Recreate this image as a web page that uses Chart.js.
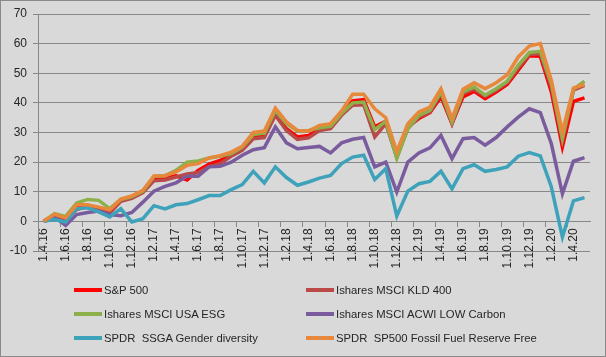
<!DOCTYPE html>
<html>
<head>
<meta charset="utf-8">
<script src="https://cdn.jsdelivr.net/npm/chart.js@4.4.0/dist/chart.umd.min.js"></script>
<style>
  html, body { margin: 0; padding: 0; background: #d9d9d9; }
  #frame { position: absolute; left: 0; top: 0; width: 606px; height: 357px; box-sizing: border-box; border: 1px solid #8a8a8a; background: #d9d9d9; }
  #wrap { position: absolute; left: 0; top: 0; width: 606px; height: 357px; }
  #legend { position: absolute; left: 0; top: 0; width: 606px; height: 357px; pointer-events: none; font-family: "Liberation Sans", Arial, sans-serif; font-size: 11.3px; color: #262626; }
  .item { position: absolute; height: 14px; line-height: 14px; white-space: pre; }
  .sw { position: absolute; top: 5px; left: 0; width: 28px; height: 4px; }
  .lbl { position: absolute; left: 30px; top: 0; }
</style>
</head>
<body>
<div id="frame"></div>
<div id="wrap"><canvas id="c"></canvas></div>
<div id="legend"></div>
<script>
const categories = [
  "1.4.16","1.5.16","1.6.16","1.7.16","1.8.16","1.9.16","1.10.16","1.11.16","1.12.16",
  "1.1.17","1.2.17","1.3.17","1.4.17","1.5.17","1.6.17","1.7.17","1.8.17","1.9.17","1.10.17","1.11.17","1.12.17",
  "1.1.18","1.2.18","1.3.18","1.4.18","1.5.18","1.6.18","1.7.18","1.8.18","1.9.18","1.10.18","1.11.18","1.12.18",
  "1.1.19","1.2.19","1.3.19","1.4.19","1.5.19","1.6.19","1.7.19","1.8.19","1.9.19","1.10.19","1.11.19","1.12.19",
  "1.1.20","1.2.20","1.3.20","1.4.20","1.5.20"
];

const seriesNames = [
  "S&P 500",
  "Ishares MSCI KLD 400",
  "Ishares MSCI USA ESG",
  "Ishares MSCI ACWI LOW Carbon",
  "SPDR  SSGA Gender diversity",
  "SPDR  SP500 Fossil Fuel Reserve Free"
];

const sp500 = [0, 2, 0.9, 5.2, 5.2, 4.6, 3.2, 7.1, 8, 9.9, 14.8, 14.8, 15.4, 14.0, 17.2, 19.3, 20.6,
  22.3, 24.5, 28.5, 29, 36.6, 31.3, 28.5, 29, 31, 31.6, 36.1, 40.7, 41.1, 31.9, 33.8, 21.7,
  31.9, 34.7, 36.7, 42, 33, 42, 43.9, 41.4, 43.7, 46.2, 51, 55.9, 55.7, 43.7, 25.1, 40.5, 41.7];

const kld400 = [0, 1.5, 0.3, 4, 5, 4.5, 2.8, 6.8, 7.8, 9.7, 13.7, 14, 15, 16, 16.5, 18.5, 19.5,
  22, 24, 27.9, 28.3, 35.8, 30.7, 27.7, 28.2, 30.7, 31.3, 35.8, 39.2, 39.4, 28.5, 33, 21.7,
  31.3, 35.2, 36.9, 43.1, 33, 43.1, 44.6, 42.2, 44.3, 46.8, 51.8, 56.3, 56.6, 45.4, 27.4, 44.3, 45.9];

const usaEsg = [0, 2.6, 1.7, 6.2, 7.4, 7.1, 4.3, 7.4, 8.4, 10.2, 15.2, 15.4, 17.2, 20, 20.4, 21.4, 22,
  22.9, 25.1, 29.3, 29.8, 37.5, 33, 30.5, 30.7, 31.6, 32.1, 36.4, 40, 40.3, 31, 33.8, 21.2,
  31.3, 35.8, 37.5, 43.7, 33.6, 43.7, 45.4, 42.6, 44.8, 47.3, 52.7, 57, 57.4, 46.5, 27.9, 44.6, 47.3];

const acwiLowCarbon = [0, 1.5, -1.4, 2.3, 3, 3.5, 2.3, 1.9, 3, 6.5, 10.2, 11.8, 13, 15.2, 15.2, 18.4, 18.6,
  20, 22.3, 24.2, 24.9, 31.9, 26.5, 24.5, 24.9, 25.3, 23.1, 26.5, 27.7, 28.3, 18.4, 20, 9.9,
  20, 23.1, 24.8, 29, 21.2, 27.9, 28.3, 25.7, 28.3, 31.9, 35.2, 38, 36.7, 26.2, 9.3, 20.3, 21.5];

const genderDiversity = [0, 0.6, -0.2, 4.3, 4.6, 3.2, 1.5, 4.3, -0.2, 0.9, 5.3, 4.2, 5.6, 6, 7.3, 8.7, 8.7,
  10.7, 12.4, 16.9, 13, 18.4, 14.8, 12.2, 13.3, 14.6, 15.5, 19.5, 21.7, 22.3, 14.1, 17.8, 1.8,
  10.2, 12.7, 13.5, 16.9, 11, 17.8, 19.1, 16.9, 17.5, 18.4, 22, 23.2, 22.1, 11.6, -5.3, 6.9, 8];

const fossilFree = [0, 2.4, 1.2, 5.6, 5.6, 4.8, 3.9, 7.5, 8.6, 10.5, 15.3, 15.4, 16.7, 18.9, 19.5, 21.4, 22.2,
  23.4, 25.3, 30, 30.5, 38.3, 33.6, 30.7, 30.5, 32.4, 33, 37.3, 42.9, 42.9, 38, 35, 23.5,
  33, 36.9, 38.6, 44.8, 34.7, 44.6, 46.8, 44.8, 46.8, 49.5, 55.5, 59.2, 60, 47.6, 30.2, 45, 46.2];

const yMin = -10, yMax = 70, yStep = 10;

const seriesValues = [sp500, kld400, usaEsg, acwiLowCarbon, genderDiversity, fossilFree];
const seriesColors = ["#ff0000", "#b94a47", "#8db04a", "#7a5c9e", "#3ea2bb", "#e8883b"];

const gridColor = "#878787";
const textColor = "#262626";
const fontFamily = "'Liberation Sans', Arial, sans-serif";

const datasets = seriesValues.map((vals, i) => ({
  label: seriesNames[i],
  data: vals,
  borderColor: seriesColors[i],
  backgroundColor: seriesColors[i],
  borderWidth: 3.5,
  pointRadius: 0,
  pointHoverRadius: 0,
  tension: 0,
  fill: false,
  order: seriesValues.length - i
}));

new Chart(document.getElementById('c'), {
  type: 'line',
  data: { labels: categories, datasets: datasets },
  options: {
    responsive: true,
    maintainAspectRatio: false,
    animation: false,
    layout: { padding: { left: 0, top: 14, right: 16, bottom: 106 } },
    plugins: { legend: { display: false }, tooltip: { enabled: false } },
    scales: {
      x: {
        type: 'category',
        position: { y: 0 },
        offset: true,
        grid: {
          offset: true,
          drawOnChartArea: false,
          drawTicks: true,
          tickLength: 5,
          color: (ctx) => (ctx.index % 2 === 0 ? gridColor : 'rgba(0,0,0,0)')
        },
        border: { display: true, color: gridColor, width: 1 },
        ticks: {
          autoSkip: false,
          minRotation: 90,
          maxRotation: 90,
          padding: 2,
          color: textColor,
          font: { family: fontFamily, size: 12 },
          callback: function (value, index) { return index % 2 === 0 ? categories[index] : ''; }
        }
      },
      y: {
        min: yMin,
        max: yMax,
        ticks: {
          stepSize: yStep,
          padding: 6,
          color: textColor,
          font: { family: fontFamily, size: 12 }
        },
        grid: { color: gridColor, lineWidth: 1, tickLength: 5, drawTicks: true },
        border: { display: true, color: gridColor, width: 1 },
        afterFit: function (scale) { scale.width = 38; }
      }
    }
  }
});

// Legend (two columns, three rows) as HTML text
const legendPos = [
  [74, 283], [306, 283],
  [74, 307], [306, 307],
  [74, 331], [306, 331]
];
const legendEl = document.getElementById('legend');
seriesNames.forEach((name, i) => {
  const item = document.createElement('div');
  item.className = 'item';
  item.style.left = legendPos[i][0] + 'px';
  item.style.top = legendPos[i][1] + 'px';
  const sw = document.createElement('div');
  sw.className = 'sw';
  sw.style.background = seriesColors[i];
  const lbl = document.createElement('span');
  lbl.className = 'lbl';
  lbl.textContent = name;
  item.appendChild(sw);
  item.appendChild(lbl);
  legendEl.appendChild(item);
});
</script>
</body>
</html>
